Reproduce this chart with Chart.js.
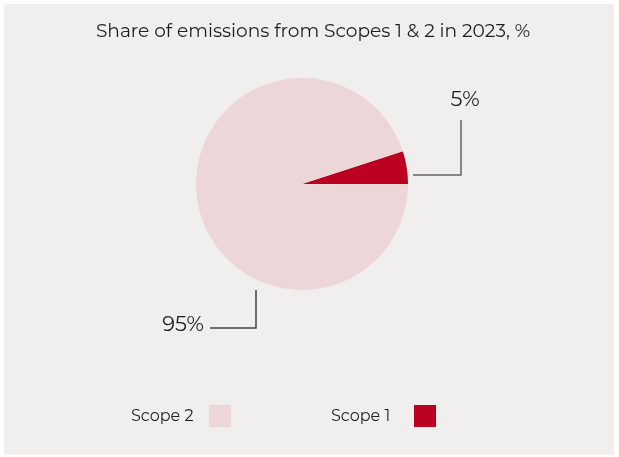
<!DOCTYPE html>
<html>
<head>
<meta charset="utf-8">
<script src="https://cdn.jsdelivr.net/npm/chart.js@4"></script>
<style>
  html, body { margin: 0; padding: 0; background: #ffffff; }
  #wrap { position: relative; width: 619px; height: 457px; }
</style>
</head>
<body>
<div id="wrap"><canvas id="pieChart" width="619" height="457"></canvas></div>
<script>
// Data
const categories = ['Scope 1', 'Scope 2'];
const shares = [5, 95];
const sliceColors = ['#bc0022', '#ecd6d7'];
const titleText = 'Share of emissions from Scopes 1 & 2 in 2023, %';

const FONT = "'Montserrat', 'DejaVu Sans', sans-serif";
const TEXT = '#1e1e1e';

// background, title, leader lines and legend drawn by hand
const decorPlugin = {
    id: 'decor',
    beforeDraw(chart) {
        const c = chart.ctx;
        c.save();
        c.fillStyle = '#f0efed';
        c.fillRect(4, 4, 610, 451);
        c.restore();
    },
    afterDraw(chart) {
        const c = chart.ctx;
        const arc = chart.getDatasetMeta(0).data[0];
        const cx = arc.x, cy = arc.y, r = arc.outerRadius;
        c.save();
        c.fillStyle = TEXT;
        c.textBaseline = 'middle';

        // title
        c.font = '18.6px ' + FONT;
        c.textAlign = 'center';
        c.fillText(titleText, 313, 32);

        // leader for Scope 1
        c.strokeStyle = '#666666';
        c.lineWidth = 1.5;
        c.beginPath();
        c.moveTo(cx + r + 5, cy - 9);
        c.lineTo(cx + r + 53, cy - 9);
        c.lineTo(cx + r + 53, cy - 64);
        c.stroke();
        c.font = '21px ' + FONT;
        c.textAlign = 'center';
        c.fillText(shares[0] + '%', cx + r + 57, cy - 84);

        // leader for Scope 2
        c.strokeStyle = '#444444';
        c.beginPath();
        c.moveTo(cx - 46, cy + r + 0);
        c.lineTo(cx - 46, cy + 144);
        c.lineTo(cx - 92, cy + 144);
        c.stroke();
        c.textAlign = 'right';
        c.fillText(shares[1] + '%', cx - 98, cy + 141);

        // legend (Scope 2 first, then Scope 1)
        c.font = '16px ' + FONT;
        c.textAlign = 'left';
        const items = [
            { i: 1, tx: 131, bx: 209 },
            { i: 0, tx: 331, bx: 414 }
        ];
        items.forEach(it => {
            c.fillStyle = TEXT;
            c.fillText(categories[it.i], it.tx, 416);
            c.fillStyle = sliceColors[it.i];
            c.fillRect(it.bx, 405, 22, 22);
        });
        c.restore();
    }
};

const ctx = document.getElementById('pieChart').getContext('2d');
const pieChart = new Chart(ctx, {
    type: 'pie',
    data: {
        labels: categories,
        datasets: [{
            data: shares,
            backgroundColor: sliceColors,
            borderWidth: 0
        }]
    },
    options: {
        responsive: false,
        animation: false,
        rotation: 72,
        layout: {
            padding: { left: 196, right: 211, top: 78, bottom: 167 }
        },
        plugins: {
            legend: { display: false },
            tooltip: { enabled: false }
        }
    },
    plugins: [decorPlugin]
});
</script>
</body>
</html>
